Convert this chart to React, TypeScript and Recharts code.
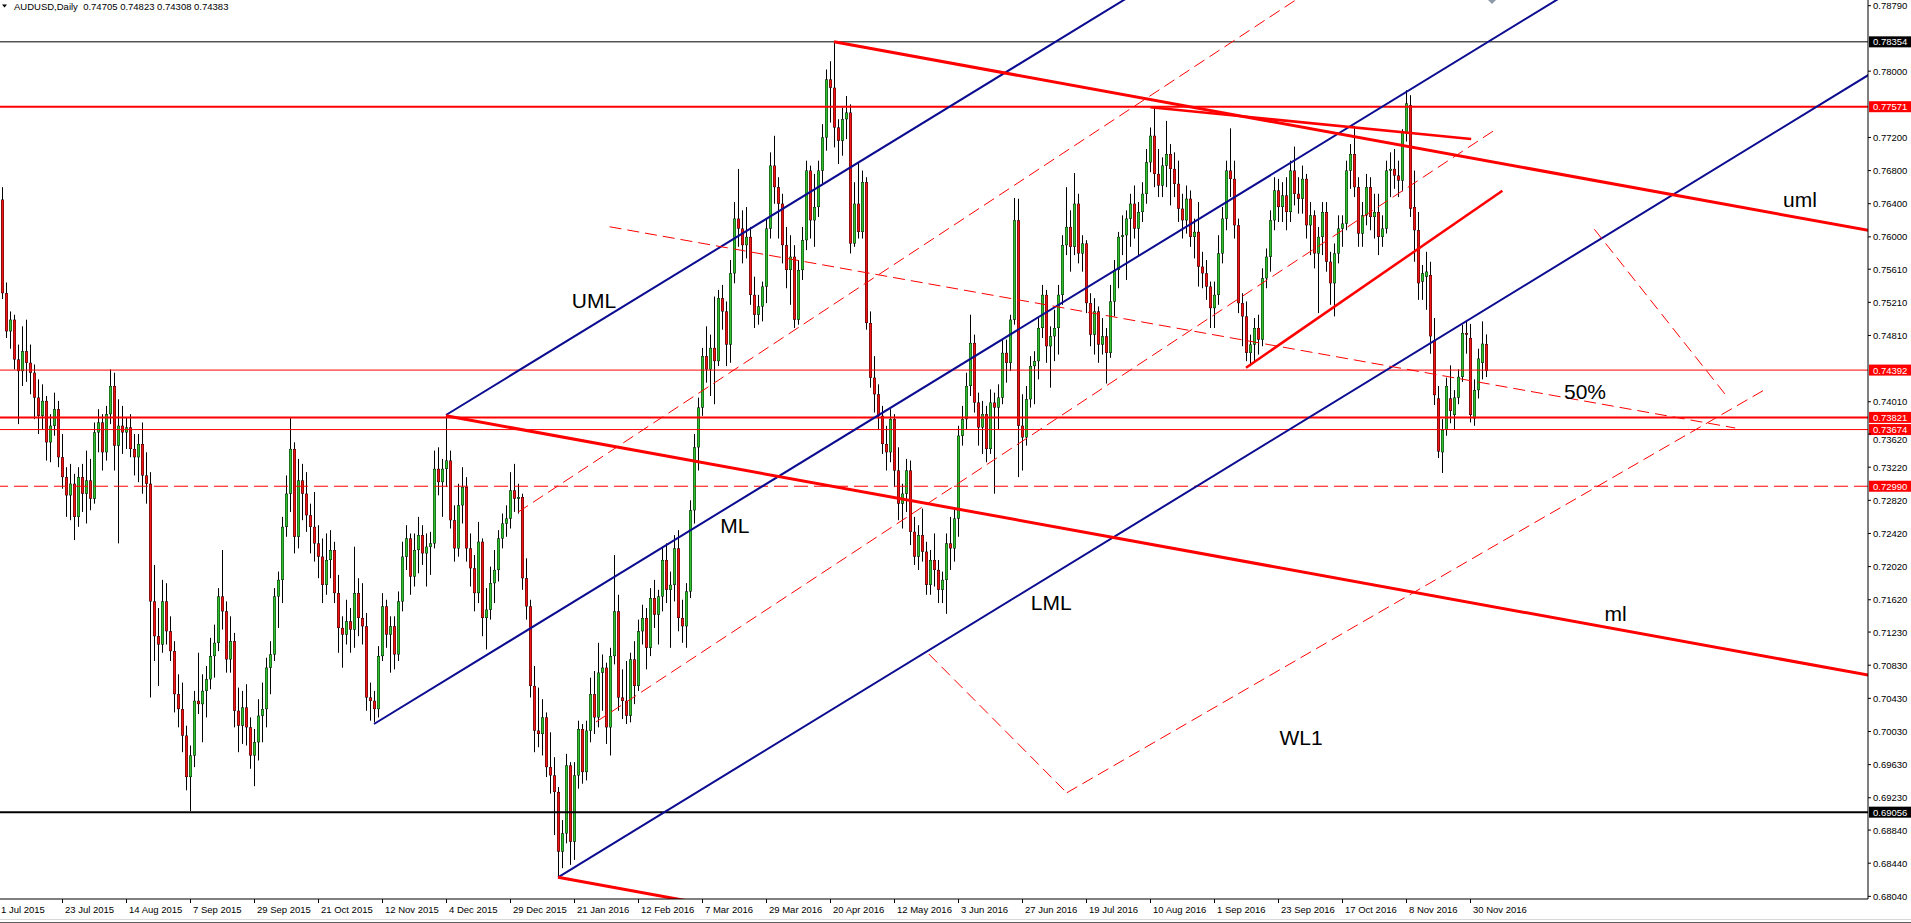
import React from 'react';
import { ComposedChart, Bar, XAxis, YAxis, ReferenceLine, ReferenceDot } from 'recharts';

// daily candles, [open, high, low, close] in pips (x 0.0001)
const jul15 = [
  [7700, 7712, 7630, 7645], [7645, 7660, 7525, 7532], [7532, 7545, 7478, 7486], [7486, 7510, 7465, 7500],
  [7500, 7506, 7440, 7452], [7452, 7470, 7374, 7438], [7438, 7492, 7420, 7462], [7462, 7500, 7425, 7448],
  [7448, 7470, 7410, 7436], [7436, 7446, 7380, 7406], [7406, 7428, 7362, 7384], [7384, 7422, 7368, 7402],
  [7402, 7408, 7330, 7352], [7352, 7386, 7328, 7372], [7372, 7412, 7360, 7392], [7392, 7402, 7322, 7334],
  [7334, 7362, 7296, 7310], [7310, 7322, 7262, 7288], [7288, 7326, 7258, 7302], [7302, 7314, 7234, 7262],
  [7262, 7322, 7250, 7310], [7310, 7326, 7268, 7290], [7290, 7342, 7254, 7306],
];
const aug15 = [
  [7306, 7332, 7270, 7284], [7284, 7376, 7278, 7364], [7364, 7392, 7340, 7376], [7376, 7386, 7318, 7340],
  [7340, 7396, 7330, 7386], [7386, 7440, 7374, 7420], [7420, 7436, 7318, 7348], [7348, 7404, 7230, 7372],
  [7372, 7396, 7338, 7364], [7364, 7382, 7344, 7370], [7370, 7386, 7334, 7344], [7344, 7362, 7312, 7334],
  [7334, 7362, 7304, 7350], [7350, 7376, 7290, 7312], [7312, 7340, 7278, 7302], [7302, 7316, 7044, 7160],
  [7160, 7204, 7088, 7118], [7118, 7152, 7058, 7108], [7108, 7186, 7098, 7160], [7160, 7182, 7108, 7124],
  [7124, 7142, 7088, 7100],
];
const sep15 = [
  [7100, 7112, 7026, 7048], [7048, 7072, 7008, 7030], [7030, 7062, 6978, 6998], [6998, 7010, 6932, 6948],
  [6948, 6986, 6907, 6974], [6974, 7052, 6960, 7040], [7040, 7098, 7024, 7036], [7036, 7072, 6990, 7052],
  [7052, 7082, 7020, 7066], [7066, 7116, 7054, 7094], [7094, 7132, 7068, 7110], [7110, 7176, 7100, 7166],
  [7166, 7222, 7126, 7148], [7148, 7160, 7074, 7090], [7090, 7142, 7074, 7112], [7112, 7122, 7008, 7028],
  [7028, 7056, 6978, 7010], [7010, 7052, 6988, 7032], [7032, 7060, 6986, 7008], [7008, 7020, 6958, 6974],
  [6974, 7006, 6937, 6990], [6990, 7042, 6968, 7022],
];
const oct15 = [
  [7022, 7062, 6990, 7030], [7030, 7092, 7008, 7080], [7080, 7112, 7048, 7096], [7096, 7176, 7088, 7166],
  [7166, 7196, 7128, 7186], [7186, 7262, 7158, 7250], [7250, 7312, 7238, 7290], [7290, 7382, 7268, 7344],
  [7344, 7352, 7218, 7238], [7238, 7332, 7224, 7306], [7306, 7326, 7258, 7290], [7290, 7316, 7244, 7264],
  [7264, 7278, 7218, 7250], [7250, 7292, 7208, 7230], [7230, 7252, 7188, 7214], [7214, 7236, 7158, 7180],
  [7180, 7242, 7168, 7210], [7210, 7246, 7188, 7222], [7222, 7232, 7158, 7170], [7170, 7192, 7098, 7128],
  [7128, 7142, 7080, 7120], [7120, 7162, 7108, 7136],
];
const nov15 = [
  [7136, 7152, 7098, 7126], [7126, 7226, 7104, 7170], [7170, 7188, 7118, 7140], [7140, 7182, 7108, 7130],
  [7130, 7146, 7028, 7044], [7044, 7062, 7016, 7040], [7040, 7052, 7014, 7030], [7030, 7106, 7020, 7094],
  [7094, 7170, 7088, 7154], [7154, 7162, 7104, 7120], [7120, 7142, 7074, 7130], [7130, 7142, 7078, 7096],
  [7096, 7172, 7088, 7160], [7160, 7232, 7148, 7214], [7214, 7252, 7198, 7236], [7236, 7242, 7168, 7190],
  [7190, 7242, 7178, 7222], [7222, 7262, 7194, 7240], [7240, 7252, 7204, 7218], [7218, 7242, 7178, 7226],
  [7226, 7244, 7192, 7230],
];
const dec15 = [
  [7230, 7342, 7224, 7320], [7320, 7346, 7288, 7304], [7304, 7332, 7262, 7320], [7320, 7385, 7298, 7330],
  [7330, 7342, 7248, 7258], [7258, 7276, 7208, 7224], [7224, 7302, 7214, 7276], [7276, 7322, 7254, 7298],
  [7298, 7310, 7208, 7224], [7224, 7242, 7178, 7200], [7200, 7216, 7148, 7170], [7170, 7256, 7158, 7232],
  [7232, 7236, 7118, 7140], [7140, 7176, 7102, 7150], [7150, 7202, 7138, 7182], [7182, 7222, 7158, 7198],
  [7198, 7246, 7184, 7236], [7236, 7266, 7224, 7254], [7254, 7276, 7238, 7260], [7260, 7316, 7248, 7294],
  [7294, 7326, 7268, 7284], [7284, 7302, 7266, 7286],
];
const jan16 = [
  [7286, 7290, 7174, 7188], [7188, 7212, 7138, 7154], [7154, 7162, 7044, 7058], [7058, 7082, 6978, 7004],
  [7004, 7056, 6984, 7000], [7000, 7042, 6974, 7020], [7020, 7026, 6948, 6960], [6960, 7002, 6928, 6950],
  [6950, 6972, 6878, 6930], [6930, 6936, 6827, 6858], [6858, 6896, 6838, 6880], [6880, 6976, 6868, 6962],
  [6962, 6966, 6842, 6870], [6870, 6966, 6848, 6950], [6950, 7016, 6934, 7006], [7006, 7012, 6940, 6954],
  [6954, 7016, 6944, 7004], [7004, 7068, 6990, 7048], [7048, 7076, 7000, 7020], [7020, 7110, 7008, 7074],
];
const feb16 = [
  [7074, 7096, 7028, 7080], [7080, 7086, 6988, 7008], [7008, 7104, 6974, 7094], [7094, 7216, 7084, 7148],
  [7148, 7168, 7028, 7044], [7044, 7078, 7018, 7040], [7040, 7088, 7012, 7022], [7022, 7098, 7014, 7090],
  [7090, 7112, 7036, 7058], [7058, 7138, 7052, 7124], [7124, 7156, 7108, 7140], [7140, 7152, 7078, 7104],
  [7104, 7176, 7094, 7164], [7164, 7186, 7128, 7144], [7144, 7174, 7108, 7166], [7166, 7226, 7148, 7210],
  [7210, 7230, 7158, 7174], [7174, 7196, 7104, 7180], [7180, 7240, 7160, 7224], [7224, 7246, 7124, 7140],
  [7140, 7162, 7110, 7130],
];
const mar16 = [
  [7130, 7182, 7104, 7172], [7172, 7282, 7164, 7270], [7270, 7362, 7254, 7346], [7346, 7406, 7318, 7394],
  [7394, 7466, 7384, 7456], [7456, 7492, 7424, 7440], [7440, 7482, 7408, 7466], [7466, 7528, 7398, 7450],
  [7450, 7536, 7444, 7526], [7526, 7542, 7488, 7510], [7510, 7522, 7444, 7470], [7470, 7572, 7448, 7556],
  [7556, 7642, 7544, 7622], [7622, 7682, 7588, 7610], [7610, 7632, 7568, 7590], [7590, 7636, 7574, 7600],
  [7600, 7612, 7518, 7530], [7530, 7552, 7490, 7506], [7506, 7530, 7494, 7516], [7516, 7546, 7498, 7540],
  [7540, 7622, 7520, 7610], [7610, 7702, 7598, 7686], [7686, 7722, 7640, 7660],
];
const apr16 = [
  [7660, 7672, 7598, 7640], [7640, 7652, 7568, 7590], [7590, 7612, 7538, 7560], [7560, 7602, 7518, 7576],
  [7576, 7590, 7490, 7500], [7500, 7572, 7494, 7560], [7560, 7612, 7548, 7596], [7596, 7692, 7584, 7680],
  [7680, 7686, 7598, 7620], [7620, 7676, 7588, 7636], [7636, 7692, 7624, 7680], [7680, 7736, 7664, 7720],
  [7720, 7802, 7704, 7790], [7790, 7812, 7738, 7780], [7780, 7835, 7708, 7732], [7732, 7742, 7688, 7716],
  [7716, 7756, 7698, 7742], [7742, 7770, 7718, 7750], [7750, 7760, 7580, 7592], [7592, 7666, 7588, 7640],
  [7640, 7690, 7598, 7606],
];
const may16 = [
  [7606, 7680, 7598, 7666], [7666, 7672, 7488, 7496], [7496, 7510, 7418, 7430], [7430, 7456, 7388, 7410],
  [7410, 7422, 7368, 7384], [7384, 7396, 7338, 7350], [7350, 7372, 7318, 7340], [7340, 7392, 7328, 7380],
  [7380, 7386, 7298, 7318], [7318, 7346, 7258, 7278], [7278, 7302, 7248, 7290], [7290, 7332, 7268, 7318],
  [7318, 7330, 7228, 7244], [7244, 7262, 7204, 7214], [7214, 7252, 7198, 7240], [7240, 7272, 7208, 7220],
  [7220, 7232, 7168, 7180], [7180, 7222, 7168, 7210], [7210, 7242, 7178, 7198], [7198, 7210, 7158, 7174],
  [7174, 7196, 7158, 7186], [7186, 7242, 7145, 7230],
];
const jun16 = [
  [7230, 7262, 7198, 7224], [7224, 7272, 7208, 7260], [7260, 7372, 7238, 7360], [7360, 7396, 7348, 7380],
  [7380, 7436, 7368, 7420], [7420, 7506, 7408, 7472], [7472, 7482, 7388, 7400], [7400, 7412, 7348, 7370],
  [7370, 7402, 7338, 7386], [7386, 7396, 7328, 7344], [7344, 7416, 7338, 7400], [7400, 7412, 7290, 7394],
  [7394, 7422, 7368, 7406], [7406, 7476, 7398, 7460], [7460, 7476, 7424, 7448], [7448, 7506, 7438, 7500],
  [7500, 7647, 7494, 7620], [7620, 7646, 7310, 7372], [7372, 7410, 7318, 7358], [7358, 7420, 7348, 7404],
  [7404, 7456, 7394, 7444], [7444, 7462, 7398, 7450],
];
const jul16 = [
  [7450, 7502, 7428, 7490], [7490, 7542, 7478, 7530], [7530, 7536, 7448, 7468], [7468, 7492, 7418, 7480],
  [7480, 7512, 7450, 7490], [7490, 7542, 7458, 7530], [7530, 7602, 7518, 7590], [7590, 7660, 7578, 7612],
  [7612, 7632, 7558, 7588], [7588, 7677, 7578, 7640], [7640, 7652, 7568, 7580], [7580, 7602, 7558, 7592],
  [7592, 7596, 7508, 7520], [7520, 7532, 7468, 7482], [7482, 7526, 7458, 7510], [7510, 7516, 7448, 7470],
  [7470, 7502, 7458, 7480], [7480, 7490, 7423, 7460], [7460, 7542, 7454, 7522], [7522, 7572, 7504, 7560],
  [7560, 7606, 7538, 7600],
];
const aug16 = [
  [7600, 7626, 7578, 7602], [7602, 7632, 7548, 7622], [7622, 7652, 7588, 7640], [7640, 7662, 7598, 7610],
  [7610, 7642, 7578, 7630], [7630, 7666, 7618, 7652], [7652, 7706, 7640, 7690], [7690, 7732, 7678, 7722],
  [7722, 7758, 7660, 7676], [7676, 7706, 7648, 7662], [7662, 7696, 7648, 7686], [7686, 7740, 7660, 7700],
  [7700, 7712, 7638, 7682], [7682, 7702, 7648, 7664], [7664, 7692, 7618, 7634], [7634, 7652, 7598, 7620],
  [7620, 7662, 7604, 7646], [7646, 7656, 7588, 7600], [7600, 7622, 7574, 7606], [7606, 7642, 7540, 7564],
  [7564, 7582, 7538, 7556], [7556, 7572, 7524, 7540], [7540, 7546, 7490, 7514],
];
const sep16 = [
  [7514, 7546, 7490, 7530], [7530, 7602, 7518, 7580], [7580, 7636, 7568, 7622], [7622, 7692, 7608, 7680],
  [7680, 7731, 7648, 7670], [7670, 7692, 7598, 7614], [7614, 7622, 7508, 7520], [7520, 7532, 7468, 7504],
  [7504, 7522, 7450, 7460], [7460, 7482, 7444, 7470], [7470, 7502, 7448, 7490], [7490, 7506, 7458, 7476],
  [7476, 7562, 7468, 7550], [7550, 7586, 7538, 7576], [7576, 7632, 7558, 7620], [7620, 7672, 7608, 7656],
  [7656, 7670, 7618, 7636], [7636, 7666, 7618, 7650], [7650, 7672, 7608, 7630], [7630, 7692, 7618, 7680],
  [7680, 7709, 7638, 7652], [7652, 7672, 7628, 7646],
];
const oct16 = [
  [7646, 7686, 7628, 7670], [7670, 7676, 7598, 7614], [7614, 7642, 7578, 7626], [7626, 7632, 7562, 7580],
  [7580, 7612, 7508, 7600], [7600, 7642, 7578, 7630], [7630, 7642, 7558, 7570], [7570, 7582, 7518, 7544],
  [7544, 7592, 7504, 7580], [7580, 7626, 7568, 7610], [7610, 7626, 7588, 7616], [7616, 7692, 7608, 7680],
  [7680, 7712, 7658, 7700], [7700, 7734, 7648, 7660], [7660, 7672, 7588, 7604], [7604, 7642, 7588, 7626],
  [7626, 7676, 7614, 7660], [7660, 7672, 7608, 7624], [7624, 7652, 7598, 7630], [7630, 7652, 7578, 7600],
  [7600, 7626, 7588, 7610],
];
const nov16 = [
  [7610, 7692, 7604, 7680], [7680, 7702, 7648, 7682], [7682, 7706, 7658, 7674], [7674, 7692, 7648, 7668],
  [7668, 7730, 7655, 7727], [7725, 7777, 7715, 7761], [7759, 7771, 7624, 7634], [7636, 7680, 7570, 7608],
  [7608, 7630, 7524, 7544], [7546, 7566, 7524, 7556], [7552, 7582, 7512, 7558], [7554, 7570, 7459, 7480],
  [7475, 7502, 7397, 7409], [7405, 7420, 7333, 7341], [7340, 7380, 7315, 7367], [7367, 7430, 7360, 7420],
  [7405, 7445, 7375, 7390], [7385, 7415, 7367, 7406], [7406, 7440, 7398, 7431], [7431, 7494, 7425, 7484],
  [7484, 7498, 7459, 7482], [7478, 7495, 7376, 7385],
];
const dec16 = [
  [7381, 7428, 7372, 7415], [7415, 7465, 7405, 7453], [7448, 7498, 7428, 7471], [7470.5, 7482.3, 7430.8, 7438.3],
];

// one label every 16 bars
const dateTicks = [
  '1 Jul 2015', '23 Jul 2015', '14 Aug 2015', '7 Sep 2015', '29 Sep 2015', '21 Oct 2015', '12 Nov 2015',
  '4 Dec 2015', '29 Dec 2015', '21 Jan 2016', '12 Feb 2016', '7 Mar 2016', '29 Mar 2016', '20 Apr 2016',
  '12 May 2016', '3 Jun 2016', '27 Jun 2016', '19 Jul 2016', '10 Aug 2016', '1 Sep 2016', '23 Sep 2016',
  '17 Oct 2016', '8 Nov 2016', '30 Nov 2016',
];
const priceTicks = [
  0.7879, 0.78, 0.772, 0.768, 0.764, 0.76, 0.7561, 0.7521, 0.7481, 0.7401, 0.7362, 0.7322, 0.7282,
  0.7242, 0.7202, 0.7162, 0.7123, 0.7083, 0.7043, 0.7003, 0.6963, 0.6923, 0.6884, 0.6844, 0.6804,
];

// horizontal levels
const levelPrices = [0.78354, 0.77571, 0.74392, 0.73821, 0.73674, 0.7299, 0.69056];

// pitchforks: [bar, price] pivots, slope in price per bar
const blueForkPivots = [[94, 0.7012], [112, 0.7385], [140, 0.6827]];
const blueForkSlope = 0.0002956;
const redForkPivots = [[112, 0.7384], [209, 0.78354], [140, 0.6827]];
const redForkSlope = -0.000088;

// dashed channel lines through a pivot: [startBar, endBar, pivotBar, pivotPrice]
const dashChannel = [[130, 340, 157.4, 0.73548], [149.5, 374.7, 374.7, 0.77306]];
const dashChannelSlope = 0.000318;

// other drawn segments: [bar1, price1, bar2, price2]
const dashSegments = [
  [152.9, 0.76122, 434.3, 0.73693],
  [267.2, 0.6929, 442, 0.74164],
  [232.7, 0.70965, 267.2, 0.6929],
  [399.1, 0.76091, 432.6, 0.74051],
];
const solidSegments = [
  [288.1, 0.77564, 368.3, 0.77181],
  [312, 0.74421, 376.1, 0.76557],
];

const lineNames = ['UML', 'ML', 'LML', 'uml', 'ml', '50%', 'WL1'];
const lineNameAt = [
  [149, 0.7523], [184.2, 0.7252], [263.3, 0.71589], [450.5, 0.76445],
  [404.4, 0.7146], [396.75, 0.74135], [325.75, 0.69963],
];

const candles = [
  jul15, aug15, sep15, oct15, nov15, dec15, jan16, feb16, mar16,
  apr16, may16, jun16, jul16, aug16, sep16, oct16, nov16, dec16,
].flat().map(([o, h, l, c], i) => ({ i, o: o / 1e4, h: h / 1e4, l: l / 1e4, c: c / 1e4 }));

const FONT = '"Liberation Sans", Arial, sans-serif';
const UP = '#30C030';
const DOWN = '#F01414';
const NAVY = '#0C0C90';
const RED = '#FF0000';
const levelColors = ['#000', RED, RED, RED, RED, RED, '#000'];
const levelWidths = [1, 2, 1, 2, 1, 1, 2];

const at = (p: number[], slope: number, bar: number) => p[1] + slope * (bar - p[0]);

function Candle(props: any) {
  const { x, y, width, height, payload } = props;
  if (!payload || !Number.isFinite(x) || !Number.isFinite(y)) return null;
  const top = Math.min(y, y + height);
  const span = Math.abs(height);
  const { o, h, l, c } = payload;
  const k = h > l ? span / (h - l) : 0;
  const yo = top + (h - o) * k;
  const yc = top + (h - c) * k;
  const cx = Math.round(x + width / 2);
  const bTop = Math.min(yo, yc);
  const bH = Math.max(1, Math.abs(yo - yc));
  return (
    <g>
      <rect x={cx} y={top} width={1} height={Math.max(span, 1)} fill="#000" />
      <rect x={cx - 1} y={bTop} width={3} height={bH} fill="#000" />
      {bH > 1 && <rect x={cx - 0.6} y={bTop + 0.4} width={2.2} height={bH - 0.8} fill={c >= o ? UP : DOWN} />}
    </g>
  );
}

function XTick({ x, y, payload }: any) {
  const label = dateTicks[Math.round(payload.value / 16)];
  return (
    <g>
      <rect x={Math.round(x)} y={y} width={1} height={4} fill="#000" />
      <text x={x + 3} y={y + 14} fontSize={9.5} fontFamily={FONT} fill="#000">{label}</text>
    </g>
  );
}

function YTick({ x, y, payload }: any) {
  // the 0.73620 label sits just under the 0.73674 tag, as in MT4
  const dy = Math.abs(payload.value - 0.7362) < 1e-6 ? 5 : 0;
  return (
    <text x={x} y={y + 3.5 + dy} fontSize={9.5} fontFamily={FONT} fill="#000" textAnchor="start">
      {Number(payload.value).toFixed(5)}
    </text>
  );
}

function priceTag(value: number, bg: string) {
  return (props: any) => {
    const vb = props.viewBox || {};
    const left = vb.x + vb.width + 1;
    return (
      <g>
        <rect x={left} y={vb.y - 5.5} width={43} height={11} fill={bg} />
        <text x={left + 4} y={vb.y + 3.5} fontSize={9.5} fontFamily={FONT} fill="#fff">{value.toFixed(5)}</text>
      </g>
    );
  };
}

export default function App() {
  return (
    <div style={{ position: 'absolute', left: 0, top: 0, width: 1911, height: 923, background: '#fff', overflow: 'hidden' }}>
      <ComposedChart width={1911} height={923} data={candles} margin={{ top: 0, right: 0, bottom: 0, left: 0 }}>
        <XAxis
          dataKey="i" type="number" domain={[0.5, 467.5]} allowDataOverflow
          ticks={dateTicks.map((_, k) => k * 16)} interval={0}
          tickSize={0} tickMargin={0} tickLine={false}
          tick={(p: any) => <XTick {...p} />}
          axisLine={{ stroke: '#000' }} height={24}
        />
        <YAxis
          orientation="right" type="number" domain={[0.68008, 0.78859]} allowDataOverflow
          ticks={priceTicks} interval={0} width={43} tickSize={3} tickMargin={2}
          tickLine={{ stroke: '#000' }} axisLine={{ stroke: '#000' }}
          tick={(p: any) => <YTick {...p} />}
        />
        <Bar dataKey={(d: any) => [d.l, d.h]} barSize={3} shape={(p: any) => <Candle {...p} />} isAnimationActive={false} />

        {levelPrices.map((p, k) => (
          <ReferenceLine
            key={'lv' + k} y={p} stroke={levelColors[k]} strokeWidth={levelWidths[k]}
            strokeDasharray={k === 5 ? '14 6' : undefined}
            label={priceTag(p, levelColors[k])}
          />
        ))}

        {blueForkPivots.map((p, k) => (
          <ReferenceLine
            key={'bf' + k} ifOverflow="hidden" stroke={NAVY} strokeWidth={2}
            segment={[{ x: p[0], y: p[1] }, { x: 480, y: at(p, blueForkSlope, 480) }]}
          />
        ))}
        {redForkPivots.map((p, k) => (
          <ReferenceLine
            key={'rf' + k} ifOverflow="hidden" stroke={RED} strokeWidth={3}
            segment={[{ x: p[0], y: p[1] }, { x: 480, y: at(p, redForkSlope, 480) }]}
          />
        ))}
        {dashChannel.map(([s, e, pb, pp], k) => (
          <ReferenceLine
            key={'dc' + k} ifOverflow="hidden" stroke={RED} strokeWidth={1} strokeDasharray="12 6"
            segment={[{ x: s, y: at([pb, pp], dashChannelSlope, s) }, { x: e, y: at([pb, pp], dashChannelSlope, e) }]}
          />
        ))}
        {dashSegments.map(([x1, y1, x2, y2], k) => (
          <ReferenceLine
            key={'ds' + k} ifOverflow="hidden" stroke={RED} strokeWidth={1} strokeDasharray="12 6"
            segment={[{ x: x1, y: y1 }, { x: x2, y: y2 }]}
          />
        ))}
        {solidSegments.map(([x1, y1, x2, y2], k) => (
          <ReferenceLine
            key={'ss' + k} ifOverflow="hidden" stroke={RED} strokeWidth={2.5}
            segment={[{ x: x1, y: y1 }, { x: x2, y: y2 }]}
          />
        ))}

        {lineNames.map((name, k) => (
          <ReferenceDot
            key={'nm' + k} x={lineNameAt[k][0]} y={lineNameAt[k][1]} r={0} ifOverflow="visible"
            shape={(p: any) => (
              <text x={p.cx} y={p.cy + 7.5} textAnchor="middle" fontSize={21} fontFamily={FONT} fill="#000">{name}</text>
            )}
          />
        ))}
        <ReferenceDot
          x={373.5} y={0.78859} r={0} ifOverflow="hidden"
          shape={(p: any) => (
            <polygon points={`${p.cx - 5},${p.cy - 1} ${p.cx},${p.cy - 6} ${p.cx + 5},${p.cy - 1} ${p.cx},${p.cy + 4}`} fill="#8C9AA8" />
          )}
        />
      </ComposedChart>

      <div style={{ position: 'absolute', left: 0, top: 0, height: 13, display: 'flex', alignItems: 'center', fontFamily: FONT, fontSize: 9.5, color: '#000', whiteSpace: 'pre' }}>
        <svg width={12} height={13}><polygon points="2,4.5 7,4.5 4.5,7.5" fill="#000" /></svg>
        <span style={{ marginLeft: 2 }}>AUDUSD,Daily  0.74705 0.74823 0.74308 0.74383</span>
      </div>
      <div style={{ position: 'absolute', left: 0, top: 919, width: 1911, height: 1, background: '#D8D8D8' }} />
      <div style={{ position: 'absolute', left: 0, top: 922, width: 1911, height: 1, background: '#606060' }} />
    </div>
  );
}
